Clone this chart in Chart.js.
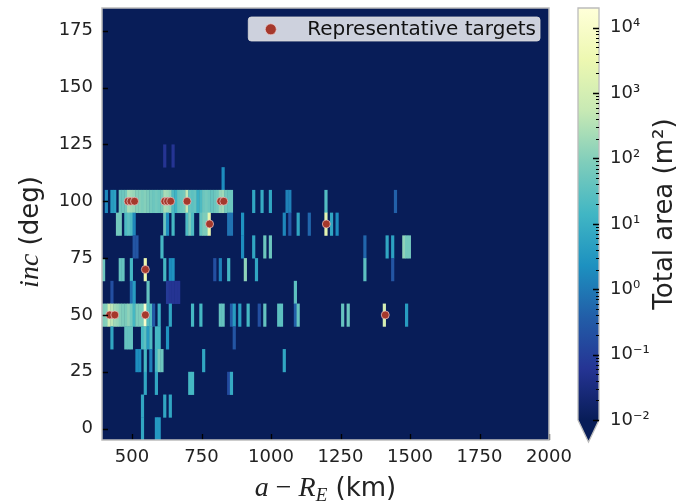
<!DOCTYPE html>
<html>
<head>
<meta charset="utf-8">
<script src="https://cdn.jsdelivr.net/npm/chart.js@4.4.1/dist/chart.umd.min.js"></script>
<style>
  html, body { margin: 0; padding: 0; background: #fff; }
</style>
</head>
<body>
<canvas id="chart" width="682" height="504"></canvas>
<script>
// histogram bins: 10 km wide, 10 deg tall, bins start on the a-axis value below
const binWidth = 10;
const binHeight = 10;

// inclination bin centres (deg)
const incBins = [120, 110, 100, 90, 80, 70, 60, 50, 40, 30, 20, 10, 0];

// start of each filled altitude bin (km), one list per inclination row
const aBins = [
    [612, 642],
    [822],
    [402, 422, 432, 452, 462, 472, 482, 492, 502, 512, 522, 532, 542, 552, 562, 572, 582, 592, 602,
     612, 622, 632, 642, 652, 662, 672, 682, 692, 702, 712, 722, 732, 742, 752, 762, 772, 782, 792,
     802, 812, 822, 832, 842, 852, 932, 962, 992, 1052, 1062, 1192, 1442],
    [442, 452, 472, 482, 492, 502, 612, 622, 642, 692, 702, 712, 742, 752, 762, 772, 842, 852, 892,
     1042, 1062, 1092, 1132, 1192, 1212, 1232],
    [502, 512, 602, 892, 932, 972, 992, 1332, 1412, 1432, 1472, 1482, 1492],
    [392, 452, 462, 492, 542, 612, 632, 642, 792, 812, 842, 902, 942, 1332, 1432],
    [422, 492, 502, 552, 622, 632, 642, 652, 662, 1082],
    [392, 402, 412, 422, 432, 442, 452, 462, 472, 482, 492, 502, 512, 522, 532, 542, 552, 562, 572,
     592, 632, 712, 742, 812, 822, 852, 862, 882, 912, 952, 972, 1022, 1032, 1082, 1092, 1252, 1272,
     1402, 1482],
    [422, 472, 482, 492, 532, 542, 552, 562, 582, 592, 622, 862],
    [512, 522, 542, 562, 582, 592, 602, 752, 1042],
    [542, 582, 702, 712, 842, 852],
    [532, 612, 632],
    [532, 582, 592]
];

// total area in each bin (m^2), same layout as aBins
const areaBins = [
    [0.06, 0.06],
    [2],
    [1.6, 4, 5, 50, 50, 63, 250, 200, 160, 100, 100, 80, 100, 80, 63, 50, 63, 50, 63,
     250, 200, 130, 20, 13, 40, 50, 63, 500, 40, 32, 40, 10, 20, 50, 63, 50, 40, 50,
     63, 160, 200, 63, 50, 50, 6.3, 8, 6.3, 1.3, 1.3, 25, 0.4],
    [63, 63, 20, 32, 20, 1.6, 50, 2, 16, 20, 80, 20, 40, 80, 80, 2500, 0.8, 0.8, 2.5,
     1.6, 0.25, 6.3, 0.5, 2000, 6.3, 2],
    [0.25, 0.25, 16, 2, 6.3, 50, 50, 0.5, 6.3, 5, 130, 63, 63],
    [50, 40, 40, 16, 3200, 16, 2, 2.5, 0.2, 1.3, 16, 130, 6.3, 32, 0.25],
    [0.2, 0.63, 4, 40, 0.08, 0.06, 0.06, 0.06, 0.06, 32],
    [80, 100, 800, 400, 200, 160, 100, 80, 80, 130, 63, 16, 80, 80, 80, 10000, 25, 25, 0.32,
     10, 6.3, 16, 16, 40, 40, 0.32, 4, 5, 16, 0.2, 40, 32, 32, 0.4, 40, 40, 50,
     1000, 4],
    [6.3, 40, 40, 40, 16, 32, 4, 20, 16, 16, 2.5, 0.25],
    [2, 2, 16, 1.3, 16, 80, 50, 6.3, 6.3],
    [6.3, 6.3, 16, 16, 0.16, 8],
    [6.3, 6.3, 6.3],
    [6.3, 3.2, 3.2]
];

// representative targets
const targetA = [420, 438, 548, 548, 486, 496, 509, 618, 628, 639, 698, 819, 830, 779, 1199, 1411];
const targetInc = [50, 50, 50, 70, 100, 100, 100, 100, 100, 100, 100, 100, 100, 90, 90, 50];

// axis ticks
const xTicks = [500, 750, 1000, 1250, 1500, 1750, 2000];
const yTicks = [0, 25, 50, 75, 100, 125, 150, 175];
const cbMajor = [1e-2, 1e-1, 1e0, 1e1, 1e2, 1e3, 1e4];

// colour scale (YlGnBu reversed, log norm)
const cbVmin = 1e-2;
const cbVmax = 2e4;
const cmapStops = ['#081d58', '#253494', '#225ea8', '#1d91c0', '#41b6c4', '#7fcdbb', '#c7e9b4', '#edf8b1', '#ffffd9'];

const SANS = '"DejaVu Sans", sans-serif';
const SERIF = '"Liberation Serif", "DejaVu Serif", serif';
const tickFont = { family: SANS, size: 18 };
const textColor = '#222';

function hexToRgb(h) {
    return [1, 3, 5].map(i => parseInt(h.substr(i, 2), 16));
}
const cmapRgb = cmapStops.map(hexToRgb);

function colorFor(v) {
    const lo = Math.log10(cbVmin), hi = Math.log10(cbVmax);
    let t = (Math.log10(v) - lo) / (hi - lo);
    t = Math.max(0, Math.min(1, t));
    const n = cmapRgb.length - 1;
    const i = Math.min(n - 1, Math.floor(t * n));
    const f = t * n - i;
    const c = cmapRgb[i].map((c0, k) => Math.round(c0 + (cmapRgb[i + 1][k] - c0) * f));
    return `rgb(${c[0]},${c[1]},${c[2]})`;
}

const SUP = { '-': '\u207B', '0': '\u2070', '1': '\u00B9', '2': '\u00B2', '3': '\u00B3', '4': '\u2074' };
function powLabel(v) {
    const e = String(Math.round(Math.log10(v)));
    return '10' + e.split('').map(ch => SUP[ch]).join('');
}

// minor ticks for the colour bar: 2..9 x 10^n
const cbMinor = [];
cbMajor.slice(0, -1).forEach(m => {
    for (let k = 2; k <= 9; k++) cbMinor.push(m * k);
});

// keep the plot box where the reference has it
function noPad(s) {
    s.paddingTop = 0;
    s.paddingBottom = 0;
    s.paddingLeft = 0;
    s.paddingRight = 0;
}

/**
 * Draws the 2D histogram cells behind the scatter points
 */
const heatmapPlugin = {
    id: 'heatmap',
    beforeDatasetsDraw(chart) {
        const { ctx, chartArea: ca, scales: { x, y } } = chart;
        ctx.save();
        ctx.beginPath();
        ctx.rect(ca.left, ca.top, ca.width, ca.height);
        ctx.clip();
        ctx.fillStyle = cmapStops[0];
        ctx.fillRect(ca.left, ca.top, ca.width, ca.height);

        incBins.forEach((inc, r) => {
            const y0 = y.getPixelForValue(inc + binHeight / 2);
            const y1 = y.getPixelForValue(inc - binHeight / 2);
            aBins[r].forEach((a, i) => {
                const x0 = x.getPixelForValue(a);
                const x1 = x.getPixelForValue(a + binWidth);
                ctx.fillStyle = colorFor(areaBins[r][i]);
                ctx.fillRect(x0, y0, x1 - x0 + 0.4, y1 - y0 + 0.4);
            });
        });
        ctx.restore();
    },
    afterDatasetsDraw(chart) {
        const { ctx, chartArea: ca, scales: { x, y } } = chart;
        ctx.save();
        // inward tick marks
        ctx.strokeStyle = '#000';
        ctx.lineWidth = 1.3;
        ctx.beginPath();
        xTicks.forEach(v => {
            const px = Math.round(x.getPixelForValue(v)) + 0.5;
            ctx.moveTo(px, ca.bottom);
            ctx.lineTo(px, ca.bottom - 6);
        });
        yTicks.forEach(v => {
            const py = Math.round(y.getPixelForValue(v)) + 0.5;
            ctx.moveTo(ca.left, py);
            ctx.lineTo(ca.left + 6, py);
        });
        ctx.stroke();
        // frame
        ctx.strokeStyle = '#bcbcbc';
        ctx.lineWidth = 1.5;
        ctx.strokeRect(ca.left, ca.top, ca.width, ca.height);
        ctx.restore();
    }
};

/**
 * Legend box, axis titles and the colour bar
 */
const decorPlugin = {
    id: 'decor',
    afterDraw(chart) {
        const { ctx, chartArea: ca, scales: { cb } } = chart;
        ctx.save();

        // legend
        const ds = chart.data.datasets[0];
        ctx.font = `20px ${SANS}`;
        const tw = ctx.measureText(ds.label).width;
        const bw = 59 + tw + 4, bh = 24;
        const bx = ca.right - 9 - bw, by = ca.top + 9;
        ctx.beginPath();
        ctx.roundRect(bx, by, bw, bh, 3);
        ctx.fillStyle = 'rgba(255,255,255,0.8)';
        ctx.fill();
        ctx.strokeStyle = 'rgba(220,220,220,0.8)';
        ctx.lineWidth = 1;
        ctx.stroke();
        ctx.beginPath();
        ctx.arc(bx + 22.5, by + 12.3, 5.5, 0, Math.PI * 2);
        ctx.fillStyle = ds.backgroundColor;
        ctx.fill();
        ctx.strokeStyle = ds.borderColor;
        ctx.lineWidth = 0.8;
        ctx.stroke();
        ctx.fillStyle = '#111';
        ctx.textBaseline = 'middle';
        ctx.textAlign = 'left';
        ctx.fillText(ds.label, bx + 59, by + 12.5);

        // mixed-font titles
        const drawParts = (parts) => {
            let w = 0;
            parts.forEach(p => { ctx.font = p.f; p.w = ctx.measureText(p.t).width; w += p.w; });
            let cx = -w / 2;
            parts.forEach(p => {
                ctx.font = p.f;
                ctx.fillText(p.t, cx, p.dy || 0);
                cx += p.w;
            });
        };
        ctx.fillStyle = textColor;
        ctx.textBaseline = 'alphabetic';

        ctx.save();
        ctx.translate((ca.left + ca.right) / 2, 496);
        drawParts([
            { t: 'a', f: `italic 28px ${SERIF}` },
            { t: ' \u2212 ', f: `28px ${SERIF}` },
            { t: 'R', f: `italic 28px ${SERIF}` },
            { t: 'E', f: `italic 19px ${SERIF}`, dy: 5 },
            { t: ' (km)', f: `26px ${SANS}` }
        ]);
        ctx.restore();

        ctx.save();
        ctx.translate(38, (ca.top + ca.bottom) / 2 + 8);
        ctx.rotate(-Math.PI / 2);
        drawParts([
            { t: 'inc', f: `italic 28px ${SERIF}` },
            { t: ' (deg)', f: `26px ${SANS}` }
        ]);
        ctx.restore();

        // colour bar
        const x0 = cb.left + 29, w = 21;
        const yLo = cb.getPixelForValue(cbVmin);
        const yHi = cb.getPixelForValue(cbVmax);
        const g = ctx.createLinearGradient(0, yLo, 0, yHi);
        cmapStops.forEach((c, i) => g.addColorStop(i / (cmapStops.length - 1), c));
        ctx.fillStyle = g;
        ctx.fillRect(x0, yHi, w, yLo - yHi);
        ctx.beginPath();
        ctx.moveTo(x0, yLo);
        ctx.lineTo(x0 + w, yLo);
        ctx.lineTo(x0 + w / 2, yLo + 22);
        ctx.closePath();
        ctx.fillStyle = cmapStops[0];
        ctx.fill();

        ctx.beginPath();
        ctx.moveTo(x0, yHi);
        ctx.lineTo(x0 + w, yHi);
        ctx.lineTo(x0 + w, yLo);
        ctx.lineTo(x0 + w / 2, yLo + 22);
        ctx.lineTo(x0, yLo);
        ctx.closePath();
        ctx.strokeStyle = '#bcbcbc';
        ctx.lineWidth = 1.3;
        ctx.stroke();

        ctx.strokeStyle = '#000';
        ctx.beginPath();
        ctx.lineWidth = 1.3;
        cbMajor.forEach(v => {
            const py = Math.round(cb.getPixelForValue(v)) + 0.5;
            ctx.moveTo(x0 + w, py);
            ctx.lineTo(x0 + w - 6, py);
        });
        ctx.stroke();
        ctx.beginPath();
        ctx.lineWidth = 1;
        cbMinor.forEach(v => {
            const py = Math.round(cb.getPixelForValue(v)) + 0.5;
            ctx.moveTo(x0 + w, py);
            ctx.lineTo(x0 + w - 3, py);
        });
        ctx.stroke();

        ctx.fillStyle = textColor;
        ctx.save();
        ctx.translate(cb.right - 10, (yHi + yLo) / 2);
        ctx.rotate(-Math.PI / 2);
        drawParts([{ t: 'Total area (m\u00B2)', f: `26px ${SANS}` }]);
        ctx.restore();

        ctx.restore();
    }
};

function generateChart() {
    const ctx = document.getElementById('chart').getContext('2d');

    const data = {
        datasets: [{
            label: 'Representative targets',
            data: targetA.map((a, i) => ({ x: a, y: targetInc[i] })),
            backgroundColor: '#a5382c',
            borderColor: 'rgba(240,205,205,0.85)',
            borderWidth: 0.8,
            pointRadius: 4,
            pointHoverRadius: 4
        }]
    };

    const chartConfig = {
        type: 'scatter',
        data: data,
        options: {
            responsive: false,
            animation: false,
            layout: { padding: { top: 8, left: 0, right: 0, bottom: 0 } },
            plugins: {
                legend: { display: false },
                tooltip: { enabled: false }
            },
            scales: {
                x: {
                    type: 'linear',
                    min: 392,
                    max: 2000,
                    grid: { display: false, drawTicks: false },
                    border: { display: false },
                    afterBuildTicks: s => { s.ticks = xTicks.map(v => ({ value: v })); },
                    ticks: { font: tickFont, color: textColor, padding: 7, maxRotation: 0, autoSkip: false,
                             callback: v => String(v) },
                    afterFit: s => { s.height = 64; noPad(s); }
                },
                y: {
                    type: 'linear',
                    min: -5,
                    max: 185,
                    grid: { display: false, drawTicks: false },
                    border: { display: false },
                    afterBuildTicks: s => { s.ticks = yTicks.map(v => ({ value: v })); },
                    ticks: { font: tickFont, color: textColor, padding: 9, autoSkip: false,
                             callback: v => String(v) },
                    afterFit: s => { s.width = 102; noPad(s); }
                },
                cb: {
                    type: 'logarithmic',
                    position: 'right',
                    axis: 'y',
                    min: Math.pow(10, -2.305),
                    max: cbVmax,
                    grid: { display: false, drawTicks: false },
                    border: { display: false },
                    afterBuildTicks: s => { s.ticks = cbMajor.map(v => ({ value: v, major: true })); },
                    ticks: {
                        font: tickFont,
                        color: textColor,
                        padding: 61,
                        autoSkip: false,
                        callback: v => powLabel(v)
                    },
                    afterFit: s => { s.width = 133; noPad(s); }
                }
            }
        },
        plugins: [heatmapPlugin, decorPlugin]
    };

    new Chart(ctx, chartConfig);
}

generateChart();
</script>
</body>
</html>
